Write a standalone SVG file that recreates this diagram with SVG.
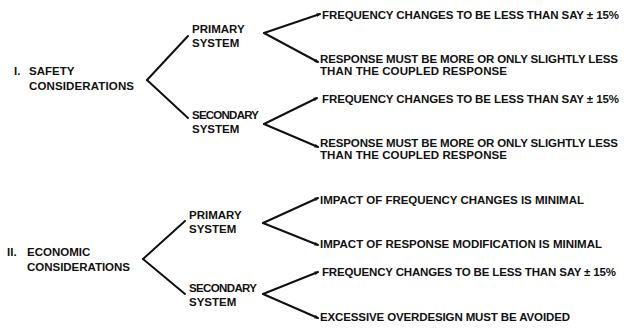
<svg xmlns="http://www.w3.org/2000/svg" width="624" height="330" viewBox="0 0 624 330">
<defs>
<style>
text{font-family:"Liberation Sans",Arial,sans-serif;font-weight:bold;font-size:11.5px;fill:#111}
.c line{stroke:#111;stroke-width:2;stroke-linecap:round;fill:none}
.c line.a{marker-end:url(#ah)}
</style>
<marker id="ah" viewBox="0 0 6 6" refX="5" refY="3" markerWidth="5" markerHeight="4" markerUnits="userSpaceOnUse" orient="auto">
<path d="M0,0 L6,3 L0,6 z" fill="#111"/>
</marker>
</defs>
<rect width="624" height="330" fill="#fff"/>
<g id="connectors" class="c">
<line x1="188" y1="36" x2="147" y2="80"/>
<line x1="147" y1="80" x2="188" y2="118"/>
<line class="a" x1="264" y1="33" x2="320" y2="14"/>
<line class="a" x1="264" y1="33" x2="318" y2="62"/>
<line class="a" x1="264" y1="124" x2="317" y2="98"/>
<line class="a" x1="264" y1="124" x2="318" y2="147"/>
<line x1="185" y1="221" x2="143" y2="259"/>
<line x1="143" y1="259" x2="185" y2="294"/>
<line class="a" x1="263" y1="223" x2="318" y2="198"/>
<line class="a" x1="263" y1="223" x2="318" y2="245"/>
<line class="a" x1="263" y1="294" x2="318" y2="272"/>
<line class="a" x1="263" y1="294" x2="318" y2="318"/>
</g>
<g id="safety">
<text x="14" y="75">I.</text>
<text x="29" y="75">SAFETY</text>
<text x="29" y="90" textLength="105">CONSIDERATIONS</text>
</g>
<g id="safety-primary">
<text x="192" y="33">PRIMARY</text>
<text x="192" y="47">SYSTEM</text>
</g>
<g id="safety-secondary">
<text x="192" y="119" textLength="67">SECONDARY</text>
<text x="192" y="133">SYSTEM</text>
</g>
<g id="sp-freq"><text x="322" y="19" textLength="297">FREQUENCY CHANGES TO BE LESS THAN SAY ± 15%</text></g>
<g id="sp-resp">
<text x="320" y="63" textLength="298">RESPONSE MUST BE MORE OR ONLY SLIGHTLY LESS</text>
<text x="320" y="75" textLength="187">THAN THE COUPLED RESPONSE</text>
</g>
<g id="ss-freq"><text x="322" y="103" textLength="297">FREQUENCY CHANGES TO BE LESS THAN SAY ± 15%</text></g>
<g id="ss-resp">
<text x="320" y="147" textLength="298">RESPONSE MUST BE MORE OR ONLY SLIGHTLY LESS</text>
<text x="320" y="159" textLength="187">THAN THE COUPLED RESPONSE</text>
</g>
<g id="economic">
<text x="7" y="256">II.</text>
<text x="27" y="256">ECONOMIC</text>
<text x="27" y="271" textLength="103">CONSIDERATIONS</text>
</g>
<g id="economic-primary">
<text x="189" y="219">PRIMARY</text>
<text x="189" y="233">SYSTEM</text>
</g>
<g id="economic-secondary">
<text x="189" y="292" textLength="68">SECONDARY</text>
<text x="189" y="306">SYSTEM</text>
</g>
<g id="ep-freq"><text x="320" y="204" textLength="264">IMPACT OF FREQUENCY CHANGES IS MINIMAL</text></g>
<g id="ep-resp"><text x="320" y="248" textLength="282">IMPACT OF RESPONSE MODIFICATION IS MINIMAL</text></g>
<g id="es-freq"><text x="322" y="276" textLength="294">FREQUENCY CHANGES TO BE LESS THAN SAY ± 15%</text></g>
<g id="es-over"><text x="320" y="321" textLength="250">EXCESSIVE OVERDESIGN MUST BE AVOIDED</text></g>
</svg>
